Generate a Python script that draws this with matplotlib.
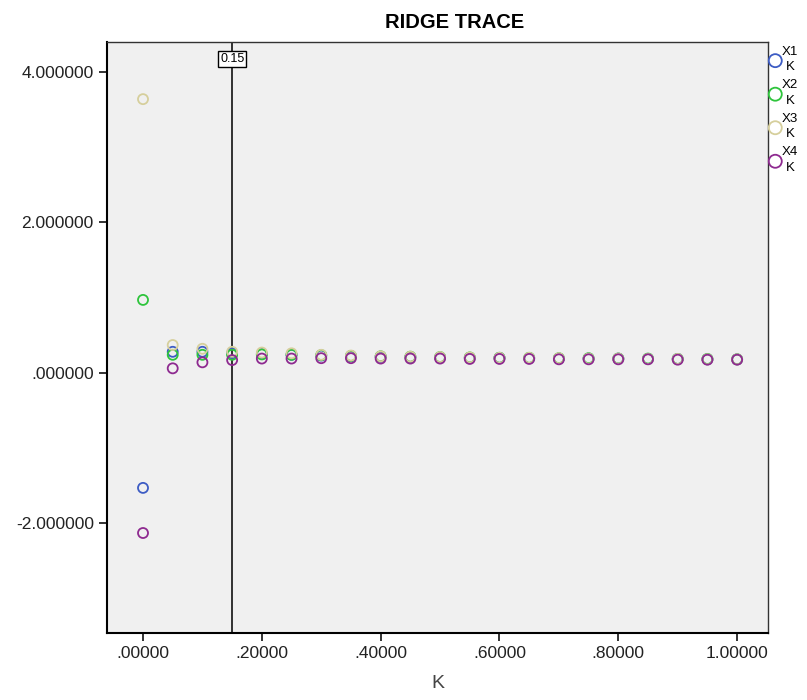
import numpy as np
import matplotlib
matplotlib.use('Agg')
import matplotlib.pyplot as plt

plt.rcParams['font.family'] = ['Liberation Sans', 'DejaVu Sans']

# ridge constant
k = [0.00, 0.05, 0.10, 0.15, 0.20, 0.25, 0.30, 0.35, 0.40, 0.45, 0.50,
     0.55, 0.60, 0.65, 0.70, 0.75, 0.80, 0.85, 0.90, 0.95, 1.00]

# standardized coefficients
x1 = [-1.53, 0.28, 0.28, 0.26, 0.25, 0.24, 0.23, 0.22, 0.215, 0.21, 0.205,
      0.20, 0.20, 0.195, 0.19, 0.19, 0.19, 0.185, 0.185, 0.18, 0.18]
x2 = [0.97, 0.24, 0.24, 0.24, 0.245, 0.24, 0.235, 0.225, 0.22, 0.215, 0.21,
      0.205, 0.20, 0.20, 0.195, 0.195, 0.19, 0.19, 0.185, 0.185, 0.18]
x3 = [3.64, 0.37, 0.32, 0.28, 0.27, 0.26, 0.24, 0.23, 0.22, 0.215, 0.21,
      0.205, 0.20, 0.20, 0.195, 0.19, 0.19, 0.185, 0.185, 0.18, 0.18]
x4 = [-2.13, 0.06, 0.14, 0.17, 0.19, 0.19, 0.195, 0.195, 0.19, 0.19, 0.19,
      0.185, 0.185, 0.185, 0.18, 0.18, 0.18, 0.18, 0.175, 0.175, 0.175]

series = [('X1', x1, '#3d5cc4'), ('X2', x2, '#2ec43c'),
          ('X3', x3, '#d6cf9c'), ('X4', x4, '#8e2a90')]
k_line = 0.15

fig = plt.figure(figsize=(8.07, 7.0), dpi=100)
ax = fig.add_axes([0.1326, 0.0957, 0.8191, 0.8443])
ax.set_facecolor('#f0f0f0')

for name, vals, col in series:
    ax.scatter(k, vals, s=52, facecolors='none', edgecolors=col,
               linewidths=1.3, label=name + '\nK', zorder=3)

ax.axvline(k_line, color='#222222', lw=1.3, zorder=2)
ax.text(k_line, 4.17, '0.15', ha='center', va='center', fontsize=9,
        bbox=dict(boxstyle='square,pad=0.15', fc='white', ec='black', lw=1),
        zorder=4, clip_on=False)

ax.set_xlim(-0.0606, 1.052)
ax.set_ylim(-3.46, 4.40)
ax.set_xticks([0, 0.2, 0.4, 0.6, 0.8, 1.0])
ax.set_xticklabels(['.00000', '.20000', '.40000', '.60000', '.80000', '1.00000'])
ax.set_yticks([-2, 0, 2, 4])
ax.set_yticklabels(['-2.000000', '.000000', '2.000000', '4.000000'])
ax.tick_params(labelsize=12.5, length=6, width=1.3, colors='#222222')
for side in ['left', 'bottom']:
    ax.spines[side].set_linewidth(1.5)
for side in ['top', 'right']:
    ax.spines[side].set_linewidth(1.0)
    ax.spines[side].set_color('#333333')

ax.set_xlabel('K', fontsize=14, color='#444444', labelpad=10)
fig.text(455 / 807, 1 - 22 / 700, 'RIDGE TRACE', ha='center', va='center',
         fontsize=14.5, fontweight='bold')

leg = ax.legend(loc='upper left', bbox_to_anchor=(0.997, 0.998), frameon=False,
                fontsize=9.5, markerscale=1.3, handletextpad=0.0,
                labelspacing=0.45, borderpad=0.1, handlelength=1.0,
                borderaxespad=0.1)
for t in leg.get_texts():
    t.set_linespacing(1.4)
    t.set_multialignment('center')

fig.savefig('out.png', dpi=100)
